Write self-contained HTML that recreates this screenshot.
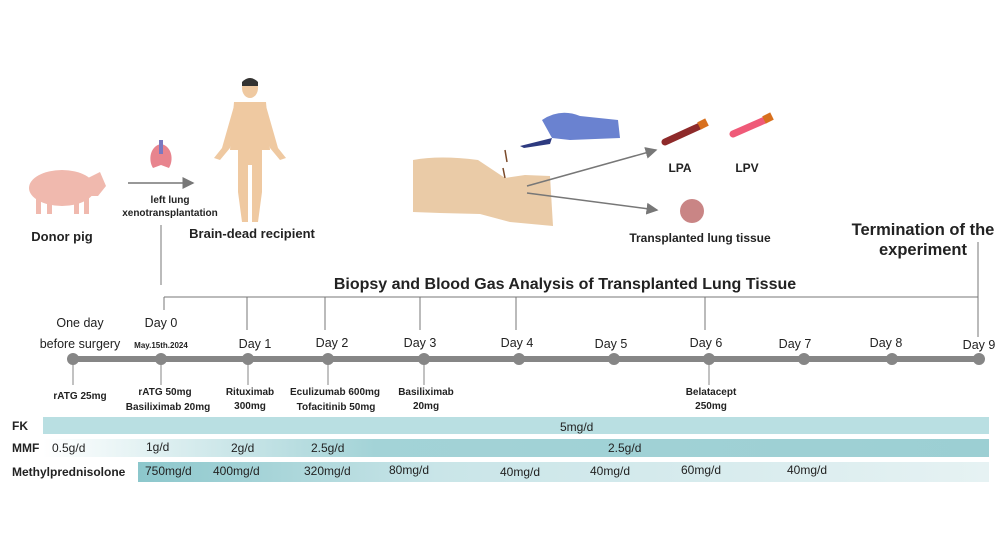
<!DOCTYPE html>
<html><head><meta charset="utf-8"><style>
html,body{margin:0;padding:0;background:#fff;}
svg{display:block;font-family:"Liberation Sans",Arial,sans-serif;}
</style></head><body>
<svg width="1000" height="539" viewBox="0 0 1000 539" xmlns="http://www.w3.org/2000/svg">
<defs>
<linearGradient id="mmf" x1="0" x2="1"><stop offset="0" stop-color="#ffffff"/><stop offset="0.35" stop-color="#a3d3d7"/><stop offset="1" stop-color="#9ccfd3"/></linearGradient>
<linearGradient id="mp" x1="0" x2="1"><stop offset="0" stop-color="#8cc7cc"/><stop offset="0.35" stop-color="#c9e5e8"/><stop offset="1" stop-color="#e6f2f3"/></linearGradient>
<marker id="ar" markerWidth="8" markerHeight="8" refX="7" refY="4" orient="auto"><path d="M0,0 L8,4 L0,8 z" fill="#777"/></marker>
</defs>

<!-- pig -->
<g fill="#f0b9ae">
<ellipse cx="62" cy="188" rx="33" ry="18"/>
<path d="M88,178 L100,172 L106,186 L98,196 L88,196 z"/>
<rect x="36" y="198" width="5" height="16"/><rect x="47" y="198" width="5" height="16"/>
<rect x="74" y="198" width="5" height="16"/><rect x="84" y="198" width="5" height="16"/>
</g>
<text x="62" y="241" font-size="13" font-weight="bold" text-anchor="middle" fill="#222">Donor pig</text>

<!-- lung -->
<path d="M161,144 C150,146 148,160 153,168 L161,165 L169,168 C174,160 172,146 161,144 z" fill="#e8848e"/>
<rect x="159" y="140" width="4" height="14" fill="#7a78c0"/>
<line x1="128" y1="183" x2="193" y2="183" stroke="#777" stroke-width="1.5" marker-end="url(#ar)"/>
<text x="170" y="203" font-size="10" font-weight="bold" text-anchor="middle" fill="#222">left lung</text>
<text x="170" y="216" font-size="10" font-weight="bold" text-anchor="middle" fill="#222">xenotransplantation</text>

<!-- human -->
<g fill="#efc9a1">
<ellipse cx="250" cy="88" rx="8" ry="10"/>
<path d="M234,102 L266,102 L270,150 L262,150 L262,192 L258,222 L252,222 L252,165 L248,165 L248,222 L242,222 L238,192 L238,150 L230,150 z"/>
<path d="M234,106 L222,148 L214,158 L220,160 L230,148 L238,116 z"/>
<path d="M266,106 L278,148 L286,158 L280,160 L270,148 L262,116 z"/>
</g>
<path d="M242,82 Q250,74 258,82 L258,86 L242,86 z" fill="#333"/>
<text x="252" y="238" font-size="13" font-weight="bold" text-anchor="middle" fill="#222">Brain-dead recipient</text>

<!-- arm -->
<path d="M413,160 Q440,155 478,160 L505,178 L525,175 L550,176 L553,226 L510,222 L480,214 L440,213 L413,212 z" fill="#eacba7"/>
<path d="M505,150 L507,162 M503,168 L505,178" stroke="#7a4a2a" stroke-width="1.5"/>
<!-- glove -->
<path d="M542,120 Q560,108 580,116 L618,120 L620,138 L570,140 L552,138 z" fill="#6a82d0"/>
<path d="M520,146 L552,138 L550,144 L524,148 z" fill="#2d3a80"/>
<line x1="527" y1="186" x2="656" y2="150" stroke="#777" stroke-width="1.5" marker-end="url(#ar)"/>
<line x1="527" y1="193" x2="657" y2="210" stroke="#777" stroke-width="1.5" marker-end="url(#ar)"/>
<!-- tubes -->
<line x1="665" y1="142" x2="700" y2="126" stroke="#8e2a2a" stroke-width="7" stroke-linecap="round"/>
<line x1="699" y1="126" x2="707" y2="122" stroke="#d8701e" stroke-width="8"/>
<line x1="733" y1="134" x2="765" y2="120" stroke="#ef5a78" stroke-width="7" stroke-linecap="round"/>
<line x1="764" y1="120" x2="772" y2="116" stroke="#d8701e" stroke-width="8"/>
<text x="680" y="172" font-size="12" font-weight="bold" text-anchor="middle" fill="#222">LPA</text>
<text x="747" y="172" font-size="12" font-weight="bold" text-anchor="middle" fill="#222">LPV</text>
<circle cx="692" cy="211" r="12" fill="#c98585"/>
<text x="700" y="242" font-size="12" font-weight="bold" text-anchor="middle" fill="#222">Transplanted lung tissue</text>

<text x="923" y="235" font-size="16.5" font-weight="bold" text-anchor="middle" fill="#222">Termination of the</text>
<text x="923" y="255" font-size="16.5" font-weight="bold" text-anchor="middle" fill="#222">experiment</text>

<!-- bracket -->
<line x1="161" y1="225" x2="161" y2="285" stroke="#777" stroke-width="1"/>
<text x="565" y="289" font-size="16" font-weight="bold" text-anchor="middle" fill="#222">Biopsy and Blood Gas Analysis of Transplanted Lung Tissue</text>
<g stroke="#777" stroke-width="1">
<line x1="164" y1="297" x2="978" y2="297"/>
<line x1="164" y1="297" x2="164" y2="310"/>
<line x1="247" y1="297" x2="247" y2="330"/>
<line x1="325" y1="297" x2="325" y2="330"/>
<line x1="420" y1="297" x2="420" y2="330"/>
<line x1="516" y1="297" x2="516" y2="330"/>
<line x1="705" y1="297" x2="705" y2="330"/>
<line x1="978" y1="242" x2="978" y2="337"/>
</g>

<!-- timeline -->
<g font-size="12.5" fill="#222" text-anchor="middle">
<text x="80" y="327">One day</text>
<text x="80" y="348">before surgery</text>
<text x="161" y="327">Day 0</text>
<text x="161" y="348" font-size="8" font-weight="bold">May.15th.2024</text>
<text x="255" y="348">Day 1</text><text x="332" y="347">Day 2</text><text x="420" y="347">Day 3</text>
<text x="517" y="347">Day 4</text><text x="611" y="348">Day 5</text><text x="706" y="347">Day 6</text>
<text x="795" y="348">Day 7</text><text x="886" y="347">Day 8</text><text x="979" y="349">Day 9</text>
</g>
<line x1="72" y1="359" x2="979" y2="359" stroke="#868686" stroke-width="6"/>
<g fill="#868686">
<circle cx="73" cy="359" r="6"/><circle cx="161" cy="359" r="6"/><circle cx="248" cy="359" r="6"/>
<circle cx="328" cy="359" r="6"/><circle cx="424" cy="359" r="6"/><circle cx="519" cy="359" r="6"/>
<circle cx="614" cy="359" r="6"/><circle cx="709" cy="359" r="6"/><circle cx="804" cy="359" r="6"/>
<circle cx="892" cy="359" r="6"/><circle cx="979" cy="359" r="6"/>
</g>
<g stroke="#868686" stroke-width="1">
<line x1="73" y1="359" x2="73" y2="385"/><line x1="161" y1="359" x2="161" y2="385"/>
<line x1="248" y1="359" x2="248" y2="385"/><line x1="328" y1="359" x2="328" y2="385"/>
<line x1="424" y1="359" x2="424" y2="385"/><line x1="709" y1="359" x2="709" y2="385"/>
</g>
<g font-size="10" font-weight="bold" fill="#222" text-anchor="middle">
<text x="80" y="399">rATG 25mg</text>
<text x="165" y="395">rATG 50mg</text><text x="168" y="410">Basiliximab 20mg</text>
<text x="250" y="395">Rituximab</text><text x="250" y="409">300mg</text>
<text x="335" y="395">Eculizumab 600mg</text><text x="336" y="410">Tofacitinib 50mg</text>
<text x="426" y="395">Basiliximab</text><text x="426" y="409">20mg</text>
<text x="711" y="395">Belatacept</text><text x="711" y="409">250mg</text>
</g>

<!-- bars -->
<rect x="43" y="417" width="946" height="17" fill="#b9dfe2"/>
<rect x="43" y="439" width="946" height="18" fill="url(#mmf)"/>
<rect x="138" y="462" width="851" height="20" fill="url(#mp)"/>
<g font-size="12" fill="#222">
<text x="12" y="430" font-weight="bold">FK</text>
<text x="12" y="452" font-weight="bold">MMF</text>
<text x="12" y="476" font-weight="bold">Methylprednisolone</text>
<text x="560" y="431">5mg/d</text>
<text x="52" y="452">0.5g/d</text><text x="146" y="451">1g/d</text><text x="231" y="452">2g/d</text>
<text x="311" y="452">2.5g/d</text><text x="608" y="452">2.5g/d</text>
<text x="145" y="475">750mg/d</text><text x="213" y="475">400mg/d</text><text x="304" y="475">320mg/d</text>
<text x="389" y="474">80mg/d</text><text x="500" y="476">40mg/d</text><text x="590" y="475">40mg/d</text>
<text x="681" y="474">60mg/d</text><text x="787" y="474">40mg/d</text>
</g>
</svg>
</body></html>
